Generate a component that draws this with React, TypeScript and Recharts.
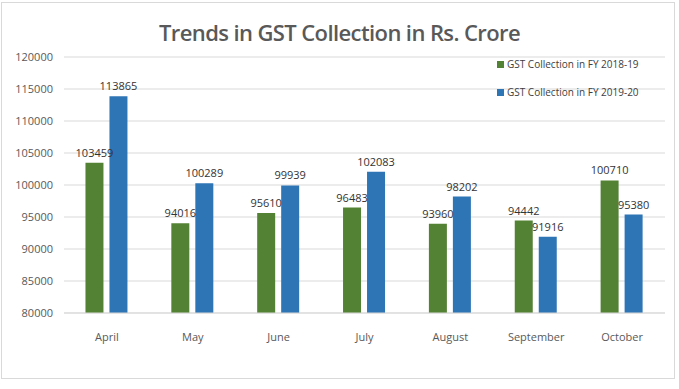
import React from 'react';
import { BarChart, Bar, XAxis, YAxis, CartesianGrid, LabelList } from 'recharts';

const months = ['April', 'May', 'June', 'July', 'August', 'September', 'October'];
const fy2018 = [103459, 94016, 95610, 96483, 93960, 94442, 100710];
const fy2019 = [113865, 100289, 99939, 102083, 98202, 91916, 95380];
const yTicks = [80000, 85000, 90000, 95000, 100000, 105000, 110000, 115000, 120000];
const seriesNames = ['GST Collection in FY 2018-19', 'GST Collection in FY 2019-20'];
const seriesColors = ['#548235', '#2E75B6'];

const data = months.map((m, i) => ({ month: m, a: fy2018[i], b: fy2019[i] }));

const FONT = '"Open Sans", "Liberation Sans", sans-serif';

export default function App() {
  return (
    <div style={{ position: 'absolute', left: 0, top: 0, width: 679, height: 389, background: '#fff', fontFamily: FONT }}>
      <div style={{ position: 'absolute', left: 1, top: 2, width: 674, height: 377, border: '1px solid #d9d9d9', boxSizing: 'border-box' }} />
      <div style={{ position: 'absolute', left: 0, top: 17, width: 679, textAlign: 'center', fontSize: 22, fontWeight: 600, color: '#595959', letterSpacing: -0.6, fontFamily: FONT }}>
        Trends in GST Collection in Rs. Crore
      </div>
      <BarChart width={679} height={389} data={data} margin={{ top: 57, right: 14, left: 4, bottom: 46 }} barGap={6} barCategoryGap="25%">
        <CartesianGrid vertical={false} stroke="#d9d9d9" />
        <XAxis dataKey="month" tickLine={false} axisLine={{ stroke: '#d9d9d9' }} tick={{ fontSize: 11, fill: '#595959', fontFamily: FONT }} tickMargin={14} height={30} />
        <YAxis domain={[80000, 120000]} ticks={yTicks} allowDataOverflow width={60} tickLine={false} axisLine={false} tick={{ fontSize: 11, fill: '#595959', fontFamily: FONT }} tickMargin={5} />
        <Bar dataKey="a" name={seriesNames[0]} fill={seriesColors[0]} isAnimationActive={false}>
          <LabelList dataKey="a" position="top" offset={6} style={{ fontSize: 11, fill: '#333333', fontFamily: FONT }} />
        </Bar>
        <Bar dataKey="b" name={seriesNames[1]} fill={seriesColors[1]} isAnimationActive={false}>
          <LabelList dataKey="b" position="top" offset={6} style={{ fontSize: 11, fill: '#333333', fontFamily: FONT }} />
        </Bar>
      </BarChart>
      <div style={{ position: 'absolute', left: 497, top: 55, fontSize: 10, color: '#404040', fontFamily: FONT }}>
        {seriesNames.map((n, i) => (
          <div key={n} style={{ display: 'flex', alignItems: 'center', height: 18, marginBottom: 10, paddingRight: 4 }}>
            <span style={{ display: 'inline-block', width: 7, height: 7, background: seriesColors[i], marginRight: 3 }} />
            <span>{n}</span>
          </div>
        ))}
      </div>
    </div>
  );
}
